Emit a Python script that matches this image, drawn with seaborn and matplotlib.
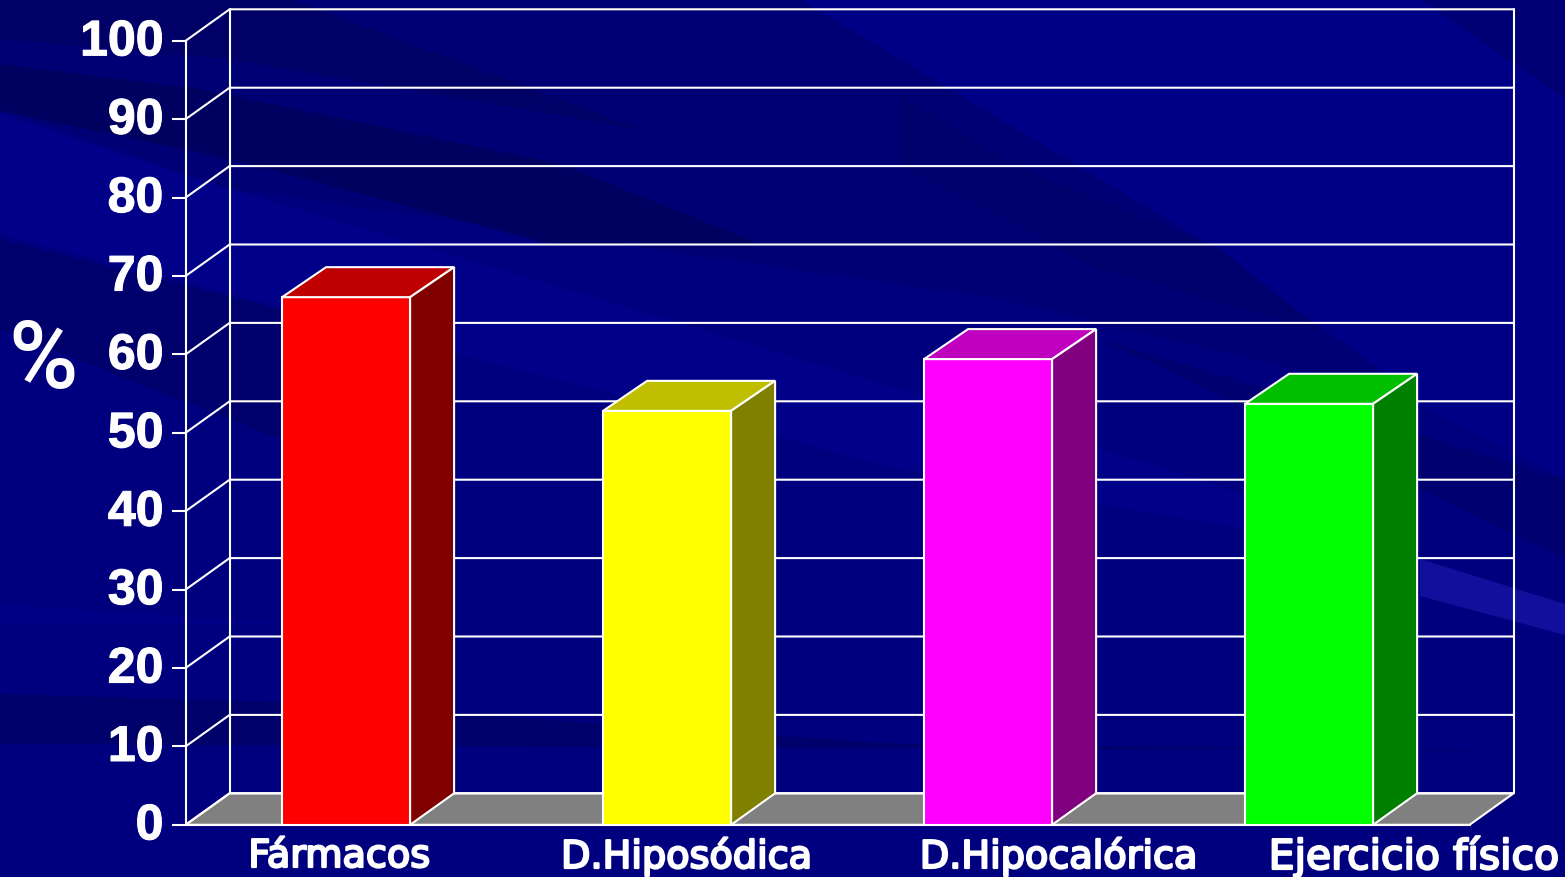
import matplotlib
matplotlib.use("Agg")
import matplotlib.pyplot as plt
import matplotlib.patheffects as pe
from matplotlib.patches import Polygon
from matplotlib.transforms import ScaledTranslation
import pandas as pd
import seaborn as sns

categories = ["Fármacos", "D.Hiposódica", "D.Hipocalórica", "Ejercicio físico"]
values = [67.3, 52.8, 59.4, 53.7]
front_colors = ["#FF0000", "#FFFF00", "#FF00FF", "#00FF00"]
top_colors = ["#BE0000", "#BFBF00", "#BF00BF", "#00BF00"]
side_colors = ["#800000", "#808000", "#800080", "#008000"]
y_ticks = [0, 10, 20, 30, 40, 50, 60, 70, 80, 90, 100]

W, H = 1565, 878
sns.set_theme(style="white")
plt.rcParams["font.family"] = ["Liberation Sans", "DejaVu Sans"]

fig = plt.figure(figsize=(W / 100, H / 100), dpi=100, facecolor="#00007E")

# Slide backdrop: soft diagonal bands over dark navy
bg = fig.add_axes([0, 0, 1, 1], zorder=0)
bg.set_xlim(0, W)
bg.set_ylim(H, 0)
bg.axis("off")
streaks = [
    ([(620, 0), (1565, 0), (1565, 480), (1100, 240)], "#000086"),
    ([(0, 0), (800, 0), (1200, 240), (1420, 400), (1000, 300), (230, 190), (0, 110)], "#000074"),
    ([(0, 0), (290, 0), (640, 130), (230, 60), (0, 40)], "#000066"),
    ([(0, 65), (200, 90), (560, 165), (760, 245), (550, 245), (230, 160), (0, 112)], "#000060"),
    ([(900, 95), (1010, 165), (1220, 250), (1320, 330), (1100, 270), (900, 165)], "#00006C"),
    ([(1100, 340), (1565, 480), (1565, 560), (1418, 490)], "#000070"),
    ([(0, 115), (230, 190), (600, 300), (1200, 480), (1565, 625), (1420, 560), (900, 470), (420, 345), (0, 235)], "#000088"),
    ([(0, 240), (280, 310), (430, 380), (280, 440), (0, 330)], "#00006C"),
    ([(1420, 0), (1565, 0), (1565, 100)], "#000074"),
    ([(1420, 560), (1565, 605), (1565, 636), (1420, 597)], "#10109C"),
    ([(0, 605), (300, 625), (0, 625)], "#000086"),
    ([(0, 695), (280, 703), (900, 745), (1565, 752), (0, 745)], "#00006A"),
]
for pts, colour in streaks:
    bg.add_patch(Polygon(pts, closed=True, facecolor=colour, edgecolor="none"))

# Chart axes span the front plane; the rear wall is offset by a fixed depth
ax = fig.add_axes([185.6 / W, (H - 825.8) / H, 1284 / W, 784 / H], zorder=1)
ax.patch.set_alpha(0)
depth_x = 44 / 321
depth_y = 31.5 / 7.84
bar_depth_y = 30 / 7.84
bar_width = 128 / 321
line_w = 1.5

table = pd.DataFrame({"categoria": categories, "porcentaje": values})
sns.barplot(
    data=table, x="categoria", y="porcentaje", hue="categoria",
    palette=front_colors, width=bar_width, saturation=1, legend=False,
    edgecolor="white", linewidth=line_w, ax=ax, zorder=5,
)
ax.set_xlim(-0.5, 3.5)
ax.set_ylim(0, 100)

left, right = -0.5, 3.5
ax.add_patch(Polygon(
    [(left, 0), (left + depth_x, depth_y), (right + depth_x, depth_y), (right, 0)],
    closed=True, facecolor="#808080", edgecolor="white", linewidth=line_w,
    clip_on=False, zorder=2,
))
for tick in y_ticks:
    ax.plot([left, left + depth_x, right + depth_x],
            [tick, tick + depth_y, tick + depth_y],
            color="white", lw=line_w, clip_on=False, zorder=3,
            solid_joinstyle="miter")
for x_wall in (left + depth_x, right + depth_x):
    ax.plot([x_wall, x_wall], [depth_y, 100 + depth_y],
            color="white", lw=line_w, clip_on=False, zorder=3)

# Top and side faces of each bar
half = bar_width / 2
for i, val in enumerate(values):
    x0, x1 = i - half, i + half
    ax.add_patch(Polygon(
        [(x0, val), (x0 + depth_x, val + bar_depth_y), (x1 + depth_x, val + bar_depth_y), (x1, val)],
        closed=True, facecolor=top_colors[i], edgecolor="white", linewidth=line_w,
        clip_on=False, zorder=6,
    ))
    ax.add_patch(Polygon(
        [(x1, 0), (x1 + depth_x, depth_y), (x1 + depth_x, val + bar_depth_y), (x1, val)],
        closed=True, facecolor=side_colors[i], edgecolor="white", linewidth=line_w,
        clip_on=False, zorder=6,
    ))

sns.despine(ax=ax, top=True, right=True)
for side in ("left", "bottom"):
    ax.spines[side].set_color("white")
    ax.spines[side].set_linewidth(line_w)
    ax.spines[side].set_zorder(4)

ax.set_xlabel("")
ax.set_ylabel("")
ax.set_xticks([])
ax.set_yticks(y_ticks)
ax.set_yticklabels([str(t) for t in y_ticks], fontsize=36, fontweight="bold",
                   color="white", family="Liberation Sans")
ax.tick_params(axis="y", length=10, width=line_w, color="white", pad=6, left=True)
raise_labels = ScaledTranslation(0, 2.5 / 72, fig.dpi_scale_trans)
for lab in ax.get_yticklabels():
    lab.set_transform(lab.get_transform() + raise_labels)
    lab.set_path_effects([pe.withStroke(linewidth=0.8, foreground="white")])

# Category captions sit in their own text boxes under the floor
captions = [(339.5, 27.5), (687, 27.5), (1059, 27.5), (1414, 29.5)]
for name, (px, size) in zip(categories, captions):
    bg.text(px, 858, name, ha="center", va="center", fontsize=size, color="white",
            family="DejaVu Sans", zorder=8,
            path_effects=[pe.withStroke(linewidth=1.6, foreground="white")])

bg.text(43, 362, "%", ha="center", va="center", fontsize=68, color="white",
        family="Roboto", fontweight="medium", zorder=8)

fig.savefig("out.png", dpi=100, facecolor=fig.get_facecolor())
